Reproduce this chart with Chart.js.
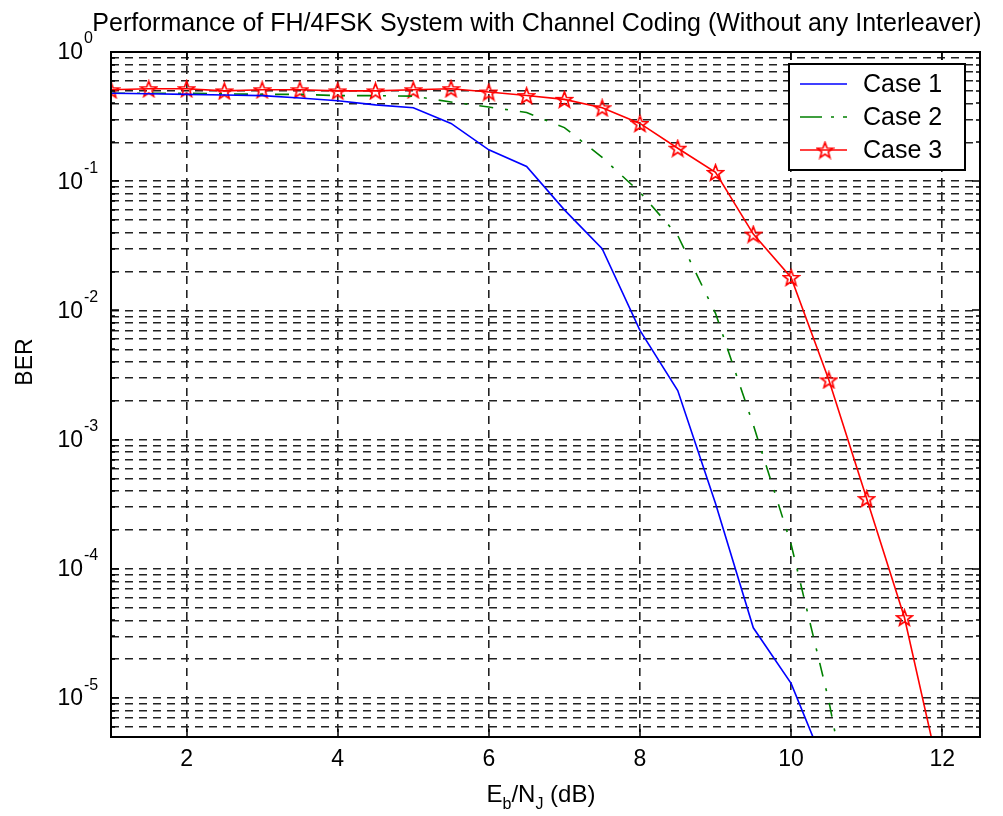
<!DOCTYPE html>
<html>
<head>
<meta charset="utf-8">
<title>FH/4FSK BER</title>
<script src="https://cdn.jsdelivr.net/npm/chart.js@4.4.0/dist/chart.umd.min.js"></script>
<style>
  html, body { margin: 0; padding: 0; background: #fff; }
  canvas { display: block; }
</style>
</head>
<body>
<canvas id="ber" width="1003" height="816"></canvas>
<script>
// BER vs Eb/NJ, three coding cases, log y axis (matlab look)

const titleText = 'Performance of FH/4FSK System with Channel Coding (Without any Interleaver)';
const seriesNames = ['Case 1', 'Case 2', 'Case 3'];
const ebnj = [1, 1.5, 2, 2.5, 3, 3.5, 4, 4.5, 5, 5.5, 6, 6.5, 7, 7.5, 8, 8.5, 9, 9.5, 10, 10.5, 11, 11.5, 12];
const case1 = [0.48, 0.475, 0.47, 0.465, 0.46, 0.44, 0.42, 0.39, 0.37, 0.28, 0.175, 0.13, 0.06, 0.03, 0.007, 0.0024, 3.2e-4, 3.5e-5, 1.3e-5, 2.5e-6];
const case2 = [0.48, 0.48, 0.48, 0.475, 0.47, 0.47, 0.46, 0.46, 0.455, 0.41, 0.375, 0.34, 0.26, 0.153, 0.082, 0.038, 0.0095, 0.0013, 1.55e-4, 9.5e-6, 3e-7];
const case3 = [0.51, 0.52, 0.52, 0.50, 0.51, 0.51, 0.50, 0.50, 0.51, 0.52, 0.49, 0.46, 0.43, 0.37, 0.28, 0.18, 0.117, 0.039, 0.018, 0.0029, 3.5e-4, 4.2e-5, 2.1e-6];
const xTicks = [2, 4, 6, 8, 10, 12];
const yExponents = [0, -1, -2, -3, -4, -5];
const xMin = 1, xMax = 12.5;
const yMin = 5e-6, yMax = 1;

const FONT = '"Liberation Sans", Arial, Helvetica, sans-serif';

// log grid: every 1..9 x 10^n inside the range
const yGrid = [];
for (let e = -6; e <= 0; e++) {
  for (let m = 1; m <= 9; m++) {
    const v = Number((m * Math.pow(10, e)).toPrecision(3));
    if (v >= yMin && v <= yMax) yGrid.push(v);
  }
}

const pts = vals => vals.map((v, i) => ({ x: ebnj[i], y: v }));

// matlab style pentagram marker
function pentagram(size, color) {
  const c = document.createElement('canvas');
  c.width = c.height = size;
  const g = c.getContext('2d');
  const r = size / 2 - 1.2, r2 = r * 0.42, cx = size / 2, cy = size / 2 + 0.8;
  g.beginPath();
  for (let i = 0; i < 10; i++) {
    const rad = i % 2 ? r2 : r;
    const a = -Math.PI / 2 + i * Math.PI / 5;
    g.lineTo(cx + rad * Math.cos(a), cy + rad * Math.sin(a));
  }
  g.closePath();
  g.strokeStyle = color;
  g.lineWidth = 1.7;
  g.stroke();
  return c;
}
const star = pentagram(19, '#ff0000');

const matlabAxes = {
  id: 'matlabAxes',
  afterDraw(chart) {
    const { ctx, chartArea: a, scales: { x, y } } = chart;
    ctx.save();

    // box + inward ticks
    ctx.strokeStyle = '#000';
    ctx.lineWidth = 2;
    ctx.setLineDash([]);
    ctx.strokeRect(a.left, a.top, a.right - a.left, a.bottom - a.top);
    ctx.lineWidth = 1.5;
    ctx.beginPath();
    xTicks.forEach(v => {
      const px = Math.round(x.getPixelForValue(v));
      ctx.moveTo(px, a.bottom); ctx.lineTo(px, a.bottom - 8);
      ctx.moveTo(px, a.top); ctx.lineTo(px, a.top + 8);
    });
    yGrid.forEach(v => {
      const py = Math.round(y.getPixelForValue(v));
      const len = Math.abs(Math.log10(v) % 1) < 1e-9 ? 8 : 4;
      ctx.moveTo(a.left, py); ctx.lineTo(a.left + len, py);
      ctx.moveTo(a.right, py); ctx.lineTo(a.right - len, py);
    });
    ctx.stroke();

    ctx.fillStyle = '#000';

    // x tick labels
    ctx.font = '23px ' + FONT;
    ctx.textAlign = 'center';
    ctx.textBaseline = 'middle';
    xTicks.forEach(v => ctx.fillText(String(v), x.getPixelForValue(v), a.bottom + 23));

    // y tick labels 10^n
    yExponents.forEach(e => {
      const py = y.getPixelForValue(Math.pow(10, e));
      ctx.font = '23px ' + FONT;
      ctx.textAlign = 'right';
      ctx.fillText('10', a.left - 28, py + 1);
      ctx.font = '16px ' + FONT;
      ctx.textAlign = 'left';
      ctx.fillText(e === 0 ? '0' : '-' + Math.abs(e), a.left - 27, py - 13);
    });

    // title
    ctx.font = '25px ' + FONT;
    ctx.textAlign = 'center';
    ctx.textBaseline = 'alphabetic';
    ctx.fillText(titleText, 537, 31);

    // x label with subscripts: E_b/N_J (dB)
    const parts = [['E', 24, 0], ['b', 16, 7], ['/N', 24, 0], ['J', 16, 7], [' (dB)', 24, 0]];
    let w = 0;
    parts.forEach(p => { ctx.font = p[1] + 'px ' + FONT; w += ctx.measureText(p[0]).width; });
    let cx = 541 - w / 2;
    ctx.textAlign = 'left';
    parts.forEach(p => {
      ctx.font = p[1] + 'px ' + FONT;
      ctx.fillText(p[0], cx, 802 + p[2]);
      cx += ctx.measureText(p[0]).width;
    });

    // y label
    ctx.save();
    ctx.translate(26, 362);
    ctx.rotate(-Math.PI / 2);
    ctx.font = '23px ' + FONT;
    ctx.textAlign = 'center';
    ctx.textBaseline = 'middle';
    ctx.fillText('BER', 0, 0);
    ctx.restore();

    // legend box, top right inside the axes
    const lx = 789, ly = 64, lw = 176, lh = 106;
    ctx.fillStyle = '#fff';
    ctx.fillRect(lx, ly, lw, lh);
    ctx.strokeStyle = '#000';
    ctx.lineWidth = 2;
    ctx.strokeRect(lx, ly, lw, lh);
    chart.data.datasets.forEach((ds, i) => {
      const yy = ly + 20 + i * 33;
      ctx.strokeStyle = ds.borderColor;
      ctx.lineWidth = ds.borderWidth;
      ctx.setLineDash(ds.borderDash ? [22, 9, 3, 9] : []);
      ctx.beginPath();
      ctx.moveTo(lx + 11, yy);
      ctx.lineTo(lx + 58, yy);
      ctx.stroke();
      ctx.setLineDash([]);
      if (ds.pointStyle instanceof HTMLCanvasElement) {
        ctx.drawImage(ds.pointStyle, lx + 36 - ds.pointStyle.width / 2, yy - ds.pointStyle.height / 2);
      }
      ctx.fillStyle = '#000';
      ctx.font = '25px ' + FONT;
      ctx.textAlign = 'left';
      ctx.textBaseline = 'middle';
      ctx.fillText(ds.label, lx + 74, yy + 1);
    });

    ctx.restore();
  }
};

const gridStyle = { color: '#222', lineWidth: 1.6, drawTicks: false };

new Chart(document.getElementById('ber').getContext('2d'), {
  type: 'line',
  data: {
    datasets: [
      {
        label: seriesNames[0],
        data: pts(case1),
        borderColor: '#0000ff',
        borderWidth: 1.6,
        pointRadius: 0,
        tension: 0,
        fill: false
      },
      {
        label: seriesNames[1],
        data: pts(case2),
        borderColor: '#008000',
        borderWidth: 1.6,
        borderDash: [14, 12, 3, 12],
        pointRadius: 0,
        tension: 0,
        fill: false
      },
      {
        label: seriesNames[2],
        data: pts(case3),
        borderColor: '#ff0000',
        borderWidth: 1.6,
        pointStyle: star,
        pointRadius: 9,
        tension: 0,
        fill: false
      }
    ]
  },
  options: {
    responsive: false,
    animation: false,
    events: [],
    layout: { padding: { left: 111, top: 52, right: 23, bottom: 79 } },
    plugins: {
      legend: { display: false },
      tooltip: { enabled: false },
      title: { display: false }
    },
    scales: {
      x: {
        type: 'linear',
        min: xMin,
        max: xMax,
        afterBuildTicks: s => { s.ticks = xTicks.map(v => ({ value: v })); },
        ticks: { display: false },
        grid: gridStyle,
        border: { display: false, dash: [8, 6] }
      },
      y: {
        type: 'logarithmic',
        min: yMin,
        max: yMax,
        afterBuildTicks: s => { s.ticks = yGrid.map(v => ({ value: v })); },
        ticks: { display: false },
        grid: gridStyle,
        border: { display: false, dash: [8, 6] }
      }
    }
  },
  plugins: [matlabAxes]
});
</script>
</body>
</html>
